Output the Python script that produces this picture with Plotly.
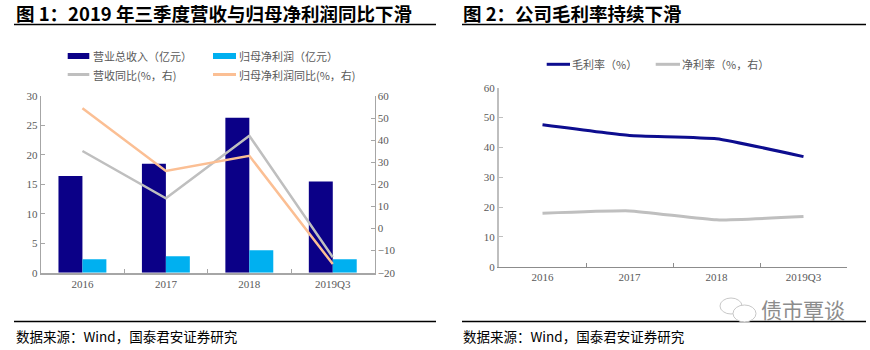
import plotly.graph_objects as go

W, H = 870, 350

# ---- data ----
categories = ["2016", "2017", "2018", "2019Q3"]
revenue = [16.4, 18.5, 26.3, 15.5]            # 营业总收入（亿元）
net_profit = [2.3, 2.8, 3.8, 2.3]             # 归母净利润（亿元）
revenue_yoy = [35.1, 13.7, 42.0, -13.0]       # 营收同比(%，右)
profit_yoy = [54.4, 26.1, 32.9, -16.1]        # 归母净利润同比(%，右)

gross_margin = [47.6, 44.0, 42.9, 36.9]       # 毛利率（%）
net_margin = [17.9, 18.7, 15.7, 16.8]         # 净利率（%，右）

names_left = ["营业总收入（亿元）", "归母净利润（亿元）", "营收同比(%，右)", "归母净利润同比(%，右)"]
names_right = ["毛利率（%）", "净利率（%，右）"]
title_left = "图 1：2019 年三季度营收与归母净利润同比下滑"
title_right = "图 2：公司毛利率持续下滑"
source_text = "数据来源：Wind，国泰君安证券研究"
watermark = "债市覃谈"

NAVY = "#0b0087"
CYAN = "#00b0f0"
GRAY = "#bfbfbf"
ORANGE = "#fbbf94"
NAVY2 = "#0d0d8f"
LBL = "#595959"
SERIF = "Liberation Serif"
CJK = "Noto Sans CJK SC"

def px(x):
    return x / W

def py(y):
    return 1 - y / H

fig = go.Figure()

fig.add_trace(go.Bar(x=categories, y=revenue, name=names_left[0], marker=dict(color=NAVY, line=dict(width=0)),
                     xaxis="x", yaxis="y"))
fig.add_trace(go.Bar(x=categories, y=net_profit, name=names_left[1], marker=dict(color=CYAN, line=dict(width=0)),
                     xaxis="x", yaxis="y"))
fig.add_trace(go.Scatter(x=categories, y=revenue_yoy, name=names_left[2], mode="lines",
                         line=dict(color=GRAY, width=2.5), xaxis="x", yaxis="y2"))
fig.add_trace(go.Scatter(x=categories, y=profit_yoy, name=names_left[3], mode="lines",
                         line=dict(color=ORANGE, width=2.5), xaxis="x", yaxis="y2"))

fig.add_trace(go.Scatter(x=categories, y=gross_margin, name=names_right[0], mode="lines",
                         line=dict(color=NAVY2, width=3, shape="spline", smoothing=0.4), xaxis="x2", yaxis="y3"))
fig.add_trace(go.Scatter(x=categories, y=net_margin, name=names_right[1], mode="lines",
                         line=dict(color=GRAY, width=3, shape="spline", smoothing=0.4), xaxis="x2", yaxis="y3"))

tickfont = dict(family=SERIF, size=11, color=LBL)

fig.update_layout(
    template="none",
    width=W, height=H,
    margin=dict(l=0, r=0, t=0, b=0),
    paper_bgcolor="white", plot_bgcolor="white",
    showlegend=False,
    barmode="group", bargap=0.426, bargroupgap=0,
    xaxis=dict(domain=[px(40.7), px(374.5)], anchor="y", type="category", range=[-0.5, 3.5],
               showline=True, linecolor="#a6a6a6", linewidth=2, automargin=False,
               ticks="inside", tickson="boundaries", ticklen=4, tickcolor="#a6a6a6",
               tickfont=tickfont, showgrid=False, zeroline=False),
    yaxis=dict(domain=[py(272.7), py(96)], anchor="x", range=[0, 30], dtick=5, automargin=False,
               showline=True, linecolor="#a6a6a6", linewidth=1,
               ticks="inside", ticklen=4, tickcolor="#a6a6a6",
               tickfont=tickfont, showgrid=False, zeroline=False),
    yaxis2=dict(overlaying="y", side="right", anchor="x", range=[-20, 60], dtick=10, automargin=False,
                showline=True, linecolor="#a6a6a6", linewidth=1,
                ticks="inside", ticklen=4, tickcolor="#a6a6a6",
                tickfont=tickfont, showgrid=False, zeroline=False),
    xaxis2=dict(domain=[px(499), px(847)], anchor="y3", type="category", range=[-0.5, 3.5], automargin=False,
                showline=True, linecolor="#8c8c8c", linewidth=1,
                ticks="inside", tickson="boundaries", ticklen=4, tickcolor="#8c8c8c",
                tickfont=tickfont, showgrid=False, zeroline=False),
    yaxis3=dict(domain=[py(266.7), py(87.7)], anchor="x2", range=[0, 60], dtick=10, automargin=False,
                showline=True, linecolor="#bfbfbf", linewidth=2,
                ticks="inside", ticklen=4, tickcolor="#bfbfbf",
                tickfont=tickfont, showgrid=False, zeroline=False),
)

shapes = []
annotations = []

def hline(x0, x1, y, color="black", width=1.5):
    shapes.append(dict(type="line", xref="paper", yref="paper", x0=px(x0), x1=px(x1), y0=py(y), y1=py(y),
                       line=dict(color=color, width=width)))

def text(x, y, s, size, color="black", family=CJK, xanchor="left", bold=False):
    annotations.append(dict(xref="paper", yref="paper", x=px(x), y=py(y), text=(f"<b>{s}</b>" if bold else s),
                            showarrow=False, xanchor=xanchor, yanchor="middle", borderpad=0,
                            font=dict(family=family, size=size, color=color)))

# titles + rules
text(15, 13, title_left, 18.5, bold=True)
text(462, 13, title_right, 18.5, bold=True)
hline(14, 436, 24.5, width=1.5)
hline(462, 866, 24.5, width=1.5)
hline(14, 436, 321.5, width=1.5)
hline(462, 866, 321.5, width=1.5)
text(15, 336, source_text, 13.5)
text(462, 336, source_text, 13.5)

# watermark
text(760, 309, watermark, 21, color="#8c8c8c")
shapes.append(dict(type="circle", xref="paper", yref="paper", x0=px(720), x1=px(742), y0=py(314), y1=py(298),
                   line=dict(color="#c8c8c8", width=1)))
shapes.append(dict(type="circle", xref="paper", yref="paper", x0=px(733), x1=px(756), y0=py(322), y1=py(305),
                   line=dict(color="#c8c8c8", width=1), fillcolor="white"))

# legends
leg_font = 11
def rect_sym(x0, x1, yc, color, h=6):
    shapes.append(dict(type="rect", xref="paper", yref="paper", x0=px(x0), x1=px(x1), y0=py(yc + h / 2), y1=py(yc - h / 2),
                       fillcolor=color, line=dict(width=0)))

def line_sym(x0, x1, yc, color, w=3):
    shapes.append(dict(type="line", xref="paper", yref="paper", x0=px(x0), x1=px(x1), y0=py(yc), y1=py(yc),
                       line=dict(color=color, width=w)))

rect_sym(67.7, 89.3, 56, NAVY)
text(92, 56, names_left[0], leg_font, color=LBL)
rect_sym(213, 236, 56, CYAN)
text(238, 56, names_left[1], leg_font, color=LBL)
line_sym(67.7, 89.3, 74.5, GRAY)
text(92, 74.5, names_left[2], leg_font, color=LBL)
line_sym(213, 236, 74.5, ORANGE)
text(238, 74.5, names_left[3], leg_font, color=LBL)

line_sym(546.7, 570, 64.3, NAVY2)
text(570.5, 64.3, names_right[0], leg_font, color=LBL)
line_sym(655.7, 680, 64.3, GRAY)
text(680.5, 64.3, names_right[1], leg_font, color=LBL)

fig.update_layout(shapes=shapes, annotations=annotations)

fig.write_html("out.html")
